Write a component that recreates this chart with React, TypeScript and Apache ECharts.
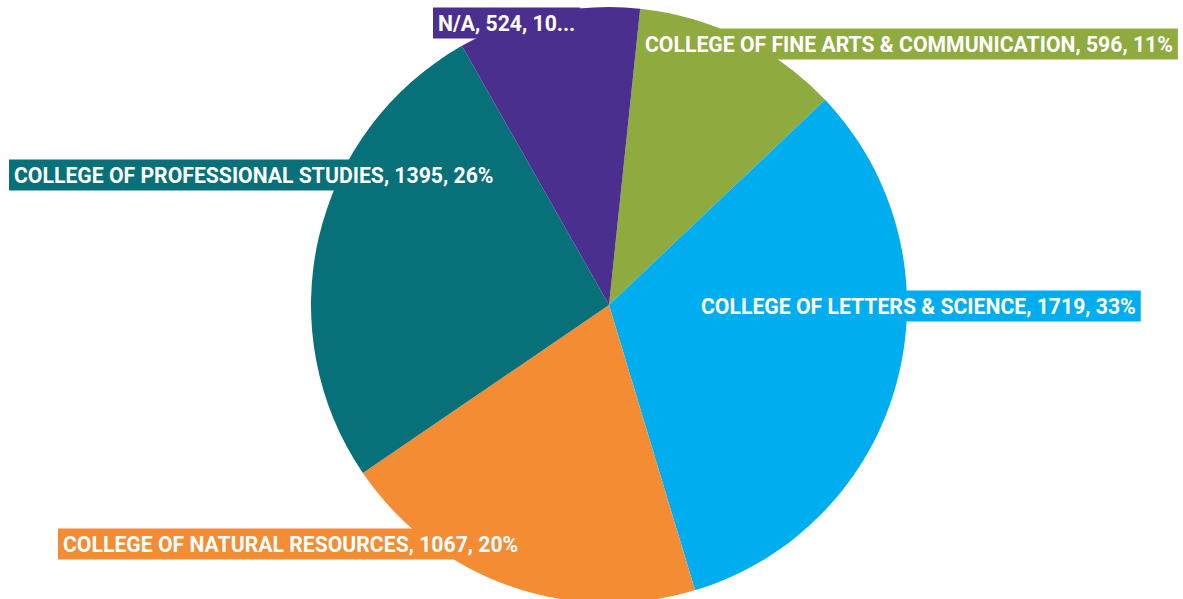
import React, { useEffect, useRef } from "react";
import * as echarts from "echarts";

const categories = [
  "COLLEGE OF FINE ARTS & COMMUNICATION",
  "COLLEGE OF LETTERS & SCIENCE",
  "COLLEGE OF NATURAL RESOURCES",
  "COLLEGE OF PROFESSIONAL STUDIES",
  "N/A",
];
const values = [596, 1719, 1067, 1395, 524];
const colors = ["#8FAA3F", "#00AEEF", "#F38C32", "#077078", "#4A2F8F"];

// label box anchor (left x, middle y)
const labelPos: [number, number][] = [
  [640, 44],
  [696, 306],
  [58, 544],
  [9, 175],
  [433, 23],
];

export default function App() {
  const ref = useRef<HTMLDivElement>(null);
  useEffect(() => {
    if (!ref.current) return;
    const chart = echarts.init(ref.current, undefined, { renderer: "svg" });
    chart.setOption({
      animation: false,
      series: [
        {
          type: "pie",
          center: [609, 305],
          radius: 298,
          startAngle: 84,
          clockwise: true,
          percentPrecision: 0,
          labelLine: { show: false },
          label: {
            show: true,
            position: "inside",
            rotate: 0,
            overflow: "none",
            formatter: (p: any) =>
              p.name === "N/A" ? `${p.name}, ${p.value}, ${p.percent}...` : `${p.name}, ${p.value}, ${p.percent}%`,
            color: "#ffffff",
            fontFamily: "Roboto, 'Liberation Sans', sans-serif",
            fontWeight: "bold",
            fontSize: 21.2,
            lineHeight: 22,
            padding: [5, 5, 4, 5],
          },
          labelLayout: (params: any) => {
            const p = labelPos[params.dataIndex];
            return { x: p[0], y: p[1], align: "left", verticalAlign: "middle", hideOverlap: false };
          },
          data: categories.map((name, i) => ({
            name,
            value: values[i],
            itemStyle: { color: colors[i] },
            label: { backgroundColor: colors[i] },
          })),
        },
      ],
    });
    return () => chart.dispose();
  }, []);
  return (
    <div
      ref={ref}
      style={{ position: "fixed", left: 0, top: 0, width: 1183, height: 599, background: "#fff" }}
    />
  );
}
